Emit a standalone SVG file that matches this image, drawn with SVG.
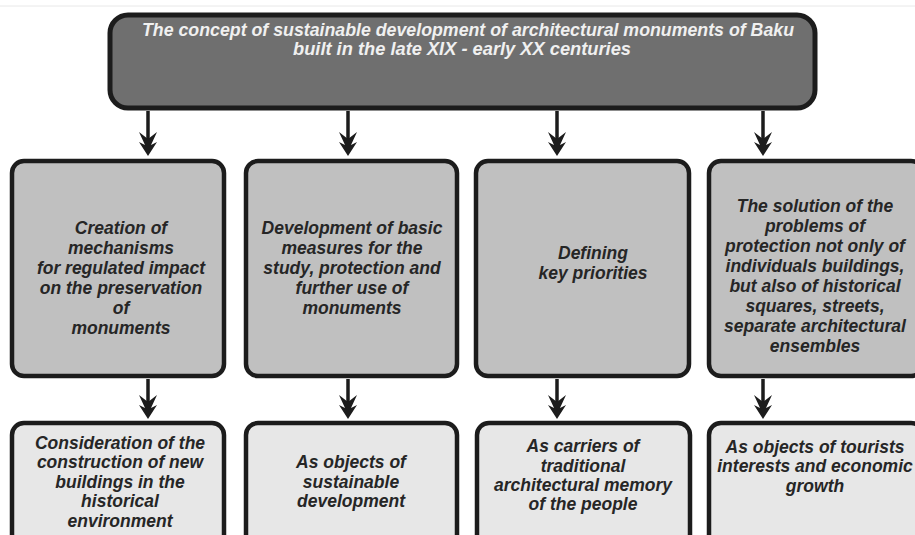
<svg xmlns="http://www.w3.org/2000/svg" width="915" height="535" viewBox="0 0 915 535">
<style>
.top{fill:#6f6f6f;stroke:#1c1c1c;stroke-width:5}
.mid{fill:#c0c0c0;stroke:#1c1c1c;stroke-width:4.5}
.bot{fill:#e7e7e7;stroke:#1c1c1c;stroke-width:4.5}
text{font-family:"Liberation Sans",Arial,sans-serif;font-weight:bold;font-style:italic;text-anchor:middle}
.tt{fill:#f0f0f0;font-size:18px}
.bt{fill:#262626;font-size:17.5px}
.conn{stroke:#1c1c1c;stroke-width:3.5;fill:none}
</style>
<defs>
<marker id="dh" viewBox="0 -10 26 20" markerWidth="26" markerHeight="20" refX="17" refY="0" markerUnits="userSpaceOnUse" orient="auto">
<polygon points="25,0 11,-9 14,-3 1,-9 8,0 1,9 14,3 11,9" fill="#1c1c1c"/>
</marker>
</defs>
<rect width="915" height="535" fill="#ffffff"/>
<line x1="0" y1="6" x2="915" y2="6" stroke="#e8e8e8" stroke-width="1"/>
<g id="connectors">
<line class="conn" x1="148" y1="111" x2="148" y2="148" marker-end="url(#dh)"/>
<line class="conn" x1="348" y1="111" x2="348" y2="148" marker-end="url(#dh)"/>
<line class="conn" x1="557" y1="111" x2="557" y2="148" marker-end="url(#dh)"/>
<line class="conn" x1="763" y1="111" x2="763" y2="148" marker-end="url(#dh)"/>
<line class="conn" x1="148" y1="379" x2="148" y2="411" marker-end="url(#dh)"/>
<line class="conn" x1="348" y1="379" x2="348" y2="411" marker-end="url(#dh)"/>
<line class="conn" x1="557" y1="379" x2="557" y2="411" marker-end="url(#dh)"/>
<line class="conn" x1="763" y1="379" x2="763" y2="411" marker-end="url(#dh)"/>
</g>
<g id="concept">
<rect class="top" x="110" y="15" width="705" height="93" rx="18"/>
<text class="tt" x="468" y="36" textLength="652" lengthAdjust="spacingAndGlyphs">The concept of sustainable development of architectural monuments of Baku</text>
<text class="tt" x="462" y="55" textLength="338" lengthAdjust="spacingAndGlyphs">built in the late XIX - early XX centuries</text>
</g>
<g id="creation">
<rect class="mid" x="12" y="161" width="212" height="215" rx="12"/>
<text class="bt" x="121" y="234">Creation of</text>
<text class="bt" x="121" y="254">mechanisms</text>
<text class="bt" x="121" y="274">for regulated impact</text>
<text class="bt" x="121" y="294">on the preservation</text>
<text class="bt" x="121" y="314">of</text>
<text class="bt" x="121" y="334">monuments</text>
</g>
<g id="development">
<rect class="mid" x="246" y="161" width="211" height="215" rx="12"/>
<text class="bt" x="352" y="234">Development of basic</text>
<text class="bt" x="352" y="254">measures for the</text>
<text class="bt" x="352" y="274">study, protection and</text>
<text class="bt" x="352" y="294">further use of</text>
<text class="bt" x="352" y="314">monuments</text>
</g>
<g id="priorities">
<rect class="mid" x="476" y="161" width="213" height="215" rx="12"/>
<text class="bt" x="593" y="259">Defining</text>
<text class="bt" x="593" y="279">key priorities</text>
</g>
<g id="solution">
<rect class="mid" x="709" y="161" width="214" height="215" rx="12"/>
<text class="bt" x="815" y="212">The solution of the</text>
<text class="bt" x="815" y="232">problems of</text>
<text class="bt" x="815" y="252">protection not only of</text>
<text class="bt" x="815" y="272">individuals buildings,</text>
<text class="bt" x="815" y="292">but also of historical</text>
<text class="bt" x="815" y="312">squares, streets,</text>
<text class="bt" x="815" y="332">separate architectural</text>
<text class="bt" x="815" y="352">ensembles</text>
</g>
<g id="consideration">
<rect class="bot" x="12" y="423" width="212" height="140" rx="12"/>
<text class="bt" x="120" y="449">Consideration of the</text>
<text class="bt" x="120" y="468">construction of new</text>
<text class="bt" x="120" y="488">buildings in the</text>
<text class="bt" x="120" y="507">historical</text>
<text class="bt" x="120" y="527">environment</text>
</g>
<g id="sustainable">
<rect class="bot" x="246" y="423" width="211" height="140" rx="12"/>
<text class="bt" x="351" y="468">As objects of</text>
<text class="bt" x="351" y="488">sustainable</text>
<text class="bt" x="351" y="507">development</text>
</g>
<g id="carriers">
<rect class="bot" x="477" y="423" width="213" height="140" rx="12"/>
<text class="bt" x="583" y="452">As carriers of</text>
<text class="bt" x="583" y="472">traditional</text>
<text class="bt" x="583" y="491">architectural memory</text>
<text class="bt" x="583" y="510">of the people</text>
</g>
<g id="tourists">
<rect class="bot" x="709" y="423" width="214" height="140" rx="12"/>
<text class="bt" x="815" y="453">As objects of tourists</text>
<text class="bt" x="815" y="472">interests and economic</text>
<text class="bt" x="815" y="492">growth</text>
</g>
</svg>
